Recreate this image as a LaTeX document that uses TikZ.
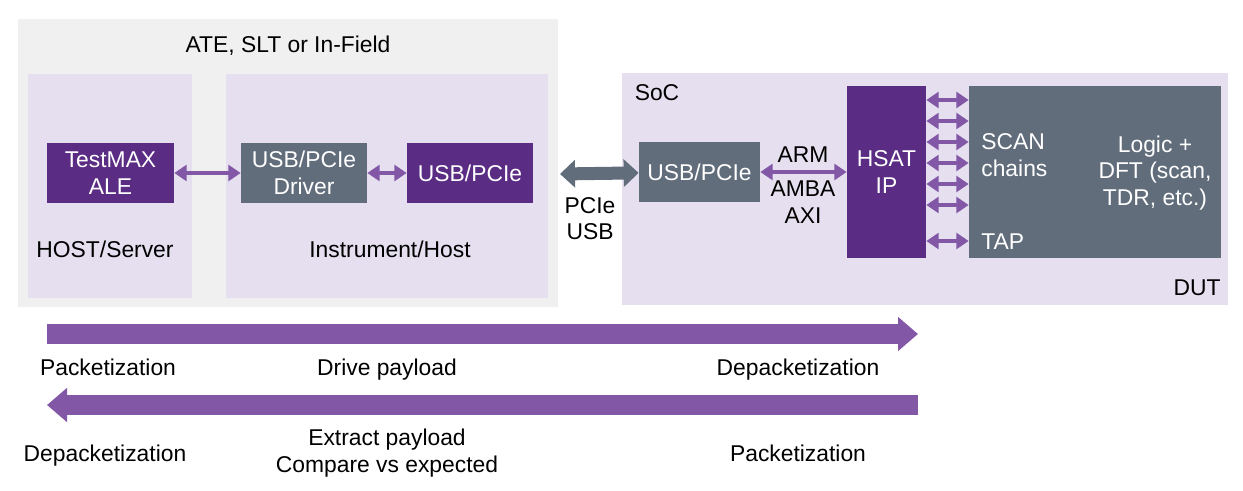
\documentclass[tikz,border=0pt]{standalone}
\usepackage{fontspec}
\setmainfont{Liberation Sans}
\usetikzlibrary{arrows.meta,positioning,calc}

\definecolor{atebg}{HTML}{F0F0F0}
\definecolor{lav}{HTML}{E5DFEF}
\definecolor{plum}{HTML}{5B2C83}
\definecolor{slate}{HTML}{626D7C}
\definecolor{violet}{HTML}{8157A6}

\tikzset{
  txt/.style={font=\fontsize{13}{15}\selectfont, align=center, inner sep=0pt},
  lbl/.style={txt, anchor=base},
  areabox/.style={fill=#1, draw=none, inner sep=0pt},
  purplebox/.style={fill=plum, text=white, txt, minimum height=1.2cm},
  greybox/.style={fill=slate, text=white, txt, minimum height=1.2cm},
  link/.style={violet, line width=2pt, {Triangle[width=9pt,length=7pt]}-{Triangle[width=9pt,length=7pt]}},
  bus/.style={slate, line width=0.26cm, {Triangle[width=0.54cm,length=0.3cm]}-{Triangle[width=0.54cm,length=0.3cm]}},
  flow/.style={violet, line width=0.4cm, -{Triangle[width=0.66cm,length=0.4cm]}}
}

\begin{document}
\begin{tikzpicture}
  \useasboundingbox (0,0) rectangle (24.86,-9.82);
  % Test side
  \node[areabox=atebg, minimum width=10.8cm, minimum height=5.76cm] (ate) at (5.76,-3.26) {};
  \node[lbl] (atelbl) at (5.76,-1.06) {ATE, SLT or In-Field};
  \node[areabox=lav, minimum width=3.28cm, minimum height=4.48cm] (host) at (2.2,-3.72) {};
  \node[areabox=lav, minimum width=6.44cm, minimum height=4.48cm] (instr) at (7.74,-3.72) {};
  \node[purplebox, minimum width=2.54cm] (testmax) at (2.21,-3.46) {TestMAX\\ALE};
  \node[greybox, minimum width=2.52cm] (driver) at (6.08,-3.46) {USB/PCIe\\Driver};
  \node[purplebox, minimum width=2.52cm] (usbhost) at (9.4,-3.46) {USB/PCIe};
  \node[lbl] (hostlbl) at (2.1,-5.14) {HOST/Server};
  \node[lbl] (instrlbl) at (7.8,-5.14) {Instrument/Host};
  \draw[link] (testmax) -- (driver);
  \draw[link] (driver) -- (usbhost);

  % Device side
  \node[areabox=lav, minimum width=12.12cm, minimum height=4.64cm] (soc) at (18.5,-3.78) {};
  \node[lbl] (soclbl) at (13.14,-2.02) {SoC};
  \node[lbl] (dutlbl) at (23.94,-5.9) {DUT};
  \node[greybox, minimum width=2.42cm] (usbdut) at (13.99,-3.44) {USB/PCIe};
  \node[purplebox, minimum width=1.58cm, minimum height=3.44cm] (hsat) at (17.73,-3.44) {HSAT\\IP};
  \node[greybox, minimum width=5.04cm, minimum height=3.44cm] (logic) at (21.9,-3.44) {};
  \node[txt, text=white] (dft) at (23.1,-3.46) {Logic +\\DFT (scan,\\TDR, etc.)};
  \node[txt, text=white, align=left, anchor=west] (scan) at (19.62,-3.1) {SCAN\\chains};
  \node[lbl, text=white, anchor=base west] (tap) at (19.62,-4.98) {TAP};
  \coordinate (pcie) at (11.2,-3.48);
  \draw[bus] (pcie) -- (usbdut);
  \node[txt] (pcielbl) at (11.8,-4.37) {PCIe\\USB};
  \draw[link] (usbdut) -- (hsat);
  \node[lbl] (armlbl) at (16.06,-3.26) {ARM};
  \node[txt] (axilbl) at (16.06,-4.04) {AMBA\\AXI};
  \foreach \y in {2.0,2.42,2.84,3.26,3.68,4.1,4.82}
    \draw[link] (hsat.east |- 0,-\y) -- (logic.west |- 0,-\y);

  % Data flow
  \coordinate (fwdA) at (0.94,-6.68);
  \coordinate (fwdB) at (18.36,-6.68);
  \coordinate (bckA) at (18.36,-8.1);
  \coordinate (bckB) at (0.94,-8.1);
  \draw[flow] (fwdA) -- (fwdB);
  \draw[flow] (bckA) -- (bckB);
  \node[lbl] (pkt1) at (2.16,-7.5) {Packetization};
  \node[lbl] (drive) at (7.74,-7.5) {Drive payload};
  \node[lbl] (depkt1) at (15.96,-7.5) {Depacketization};
  \node[lbl] (depkt2) at (2.1,-9.22) {Depacketization};
  \node[txt] (extract) at (7.74,-9.06) {Extract payload\\Compare vs expected};
  \node[lbl] (pkt2) at (15.96,-9.22) {Packetization};
\end{tikzpicture}
\end{document}
